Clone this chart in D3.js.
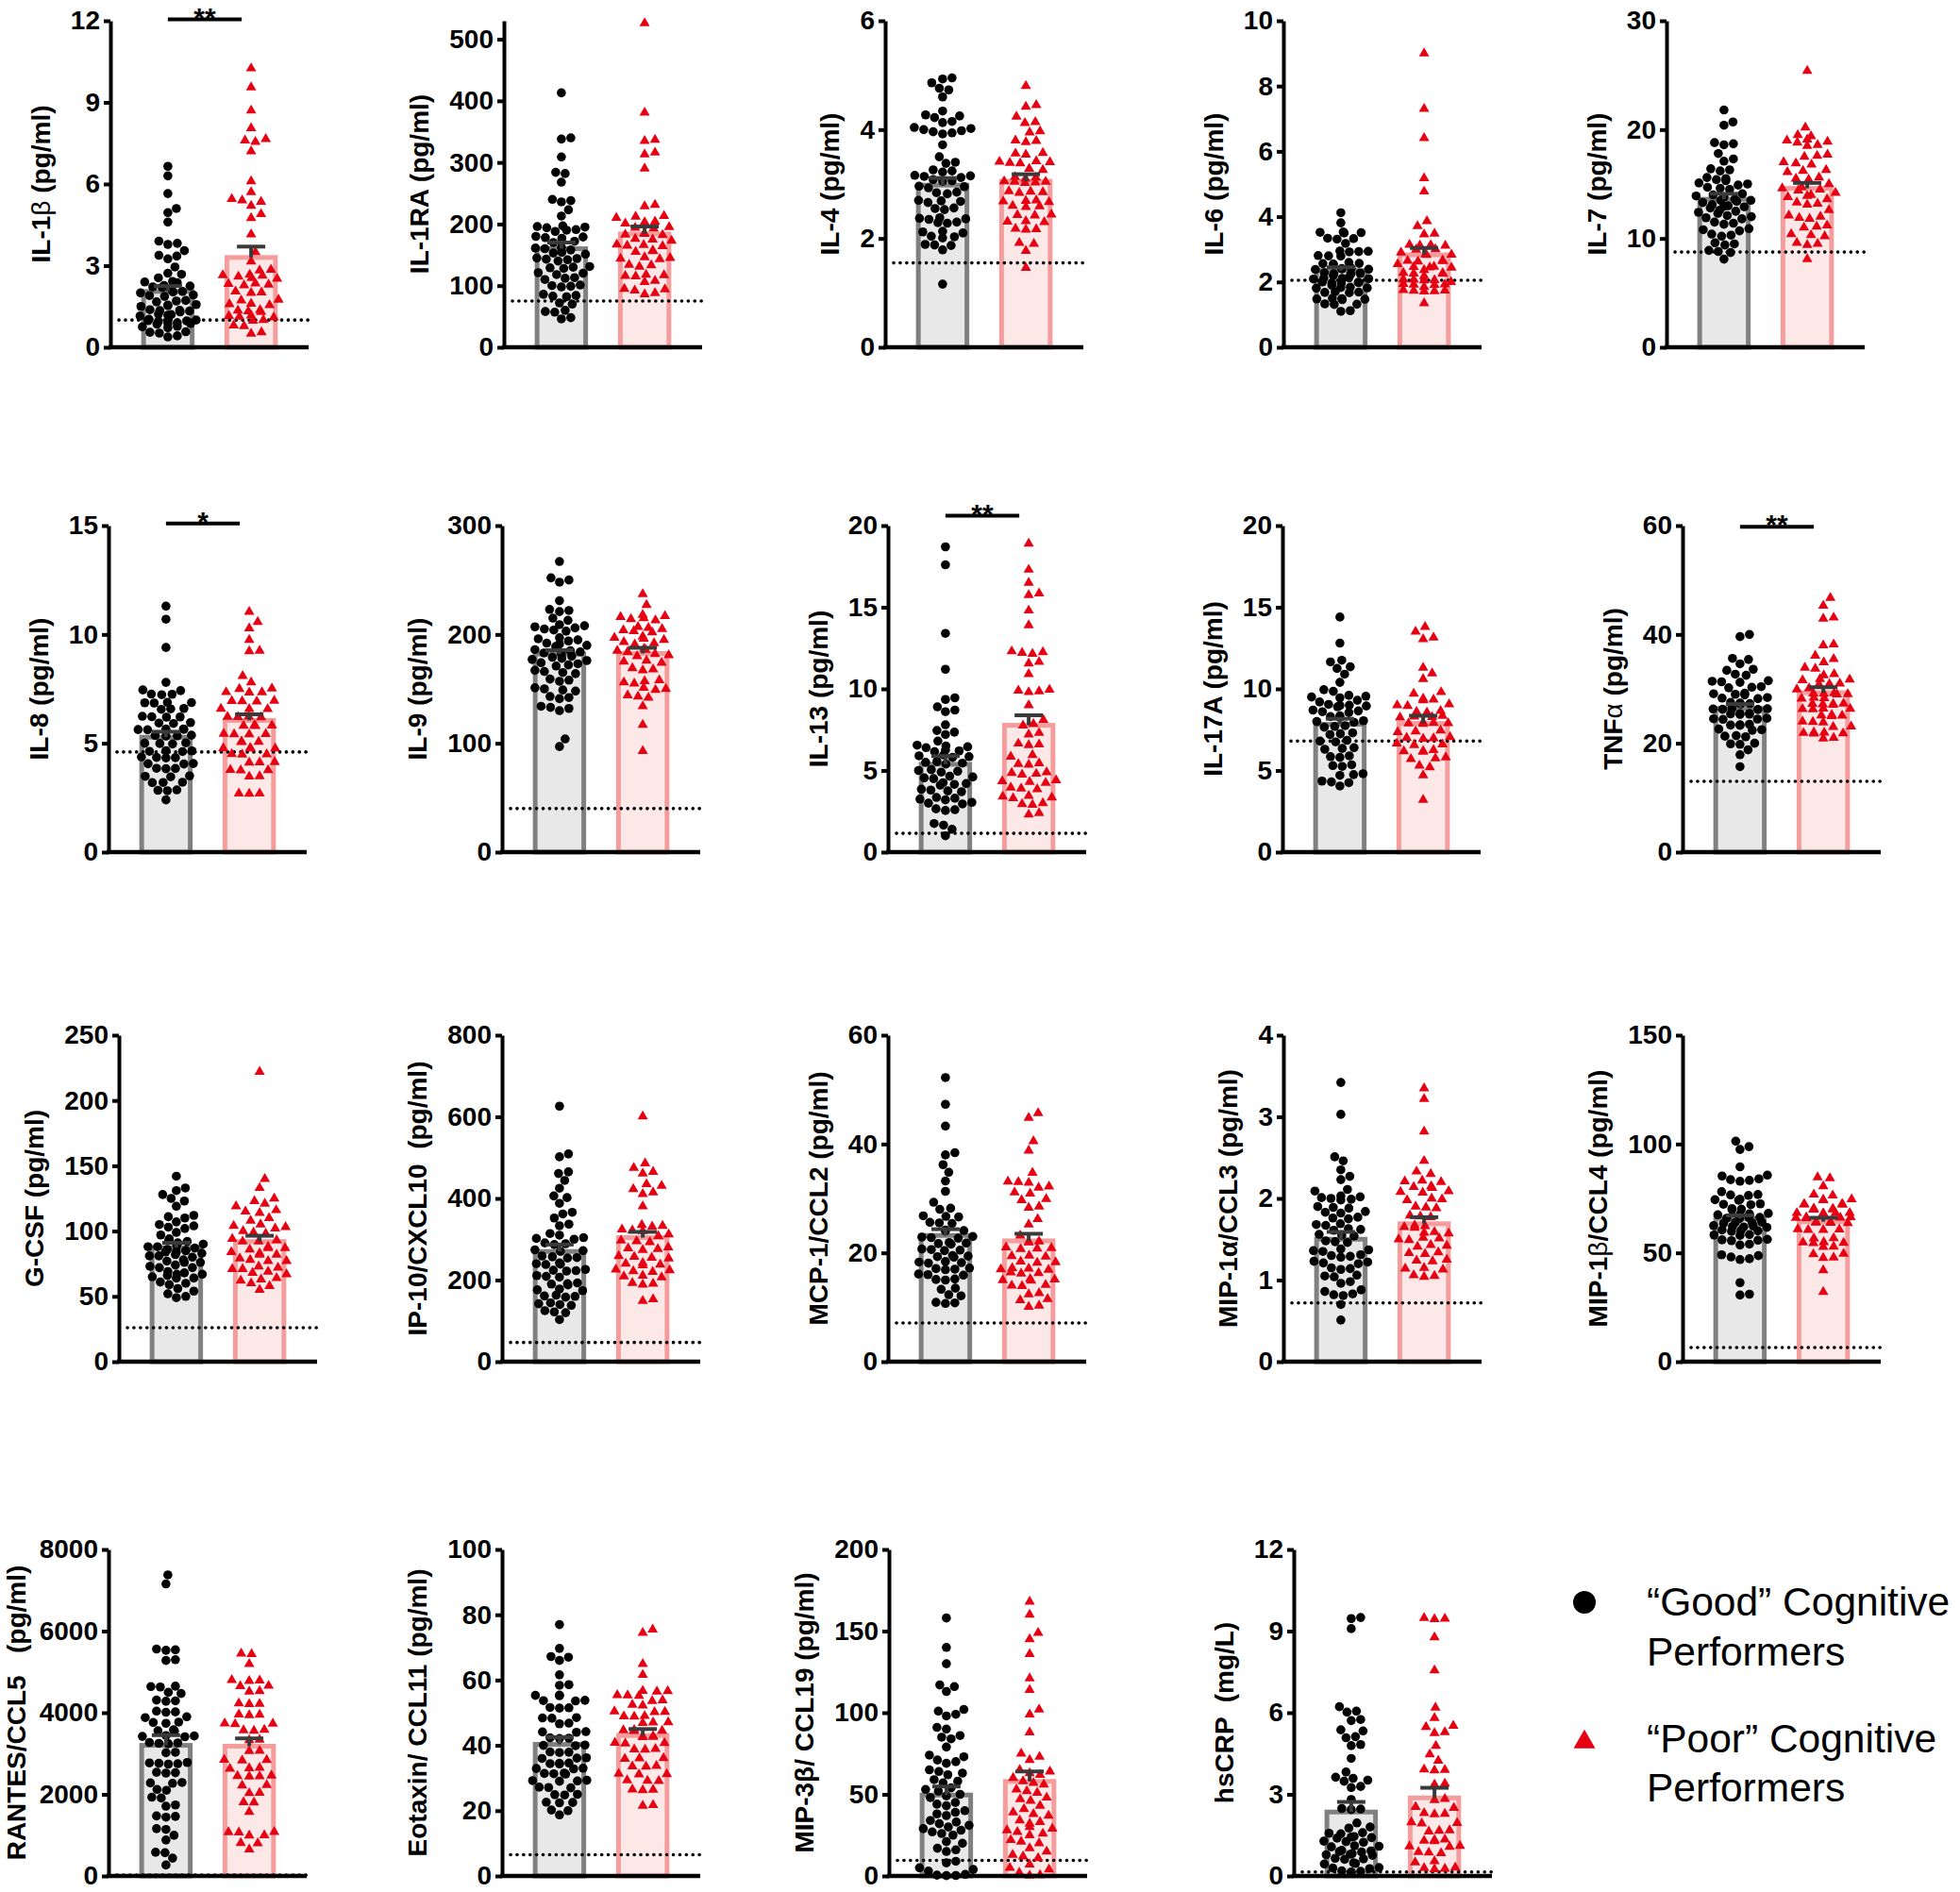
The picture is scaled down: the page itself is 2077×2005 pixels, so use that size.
<!DOCTYPE html>
<html>
<head>
<meta charset="utf-8">
<script src="https://cdn.jsdelivr.net/npm/d3@7"></script>
<style>
  body { margin: 0; background: #fff; }
  text { font-family: "Liberation Sans", Arial, sans-serif; }
</style>
</head>
<body>
<div id="chart"></div>
<script>
// ---- data ----
var labels = ["IL-1β (pg/ml)", "IL-1RA (pg/ml)", "IL-4 (pg/ml)", "IL-6 (pg/ml)", "IL-7 (pg/ml)",
              "IL-8 (pg/ml)", "IL-9 (pg/ml)", "IL-13 (pg/ml)", "IL-17A (pg/ml)", "TNFα (pg/ml)",
              "G-CSF (pg/ml)", "IP-10/CXCL10  (pg/ml)", "MCP-1/CCL2 (pg/ml)", "MIP-1α/CCL3 (pg/ml)", "MIP-1β/CCL4 (pg/ml)",
              "RANTES/CCL5   (pg/ml)", "Eotaxin/ CCL11 (pg/ml)", "MIP-3β/ CCL19 (pg/ml)", "hsCRP  (mg/L)"];
var groups = ["Good", "Poor"];
var yMax     = [12, 530, 6, 10, 30, 15, 300, 20, 20, 60, 250, 800, 60, 4, 150, 8000, 100, 200, 12];
var tickStep = [3, 100, 2, 2, 10, 5, 100, 5, 5, 20, 50, 200, 20, 1, 50, 2000, 20, 50, 3];
var lod      = [1.0, 75, 1.55, 2.05, 8.75, 4.6, 40, 1.15, 6.8, 13, 26, 47, 7.1, 0.72, 6.5, 20, 6.5, 9.5, 0.15];
var goodMean = [2.05, 160, 2.98, 2.35, 13.6, 5.28, 182, 5.38, 7.83, 26.4, 87.3, 270, 23.2, 1.50, 65.8, 3200, 40.3, 49.6, 2.35];
var goodSem  = [0.2, 10, 0.13, 0.1, 0.5, 0.25, 3.5, 0.5, 0.34, 0.8, 3.7, 17, 1.15, 0.09, 1.4, 250, 2.2, 5.2, 0.37];
var poorMean = [3.3, 184, 3.05, 2.83, 14.6, 6.05, 182.5, 7.77, 7.88, 29.3, 92, 304, 22.2, 1.69, 64.3, 3180, 43.0, 57.9, 2.87];
var poorSem  = [0.4, 12, 0.13, 0.21, 0.5, 0.28, 5.2, 0.61, 0.47, 1.0, 4.4, 14, 1.3, 0.08, 1.8, 190, 2.0, 6.1, 0.37];
var sigMark  = ["**", "", "", "", "", "*", "", "**", "", "**", "", "", "", "", "", "", "", "", ""];
var sigAt    = [12.05, 0, 0, 0, 0, 15.1, 0, 20.6, 0, 59.8, 0, 0, 0, 0, 0, 0, 0, 0, 0];

var il1bGood = [6.65,6.3,5.65,5.1,4.95,4.6,3.9,3.82,3.78,3.55,3.38,3.35,3.25,2.95,2.72,2.68,2.55,2.42,2.4,2.37,2.27,2.25,2.22,2.2,2.08,2.05,2.03,2.0,1.92,1.9,1.87,1.72,1.7,1.67,1.57,1.55,1.53,1.5,1.38,1.36,1.35,1.33,1.3,1.22,1.2,1.18,1.15,1.03,1.0,0.98,0.97,0.95,0.9,0.88,0.87,0.85,0.77,0.75,0.72,0.57,0.55,0.52,0.42,0.38];
var il1bPoor = [10.25,9.55,8.7,8.05,7.65,7.6,7.55,7.2,6.1,5.7,5.45,5.4,5.35,5.2,4.9,4.75,4.15,3.5,3.15,2.85,2.82,2.67,2.65,2.63,2.6,2.55,2.52,2.35,2.33,2.3,2.28,2.05,2.02,2.0,1.75,1.72,1.6,1.58,1.55,1.37,1.35,1.32,1.3,1.17,1.15,1.12,1.1,1.0,0.98,0.8,0.78,0.55,0.5];
var il1raGood = [413,340,338,309,284,282,268,240,238,236,223,213,197,196,195,194,191,190,188,180,179,178,177,172,170,162,161,160,158,154,153,151,145,144,143,142,140,131,130,129,128,121,120,118,113,112,110,101,100,99,98,86,84,83,82,72,70,60,58,57,48,46];
var il1raPoor = [526,381,337,335,316,313,290,231,229,213,212,210,204,203,202,201,195,194,193,185,184,183,182,176,175,173,167,166,165,164,157,156,155,146,145,144,143,134,133,131,118,117,116,115,108,106,95,94,92,88,86];
var il4Good = [4.95,4.93,4.86,4.76,4.73,4.6,4.34,4.27,4.25,4.22,4.15,4.13,4.04,4.02,4.0,3.98,3.96,3.94,3.92,3.72,3.5,3.4,3.38,3.26,3.24,3.22,3.16,3.15,3.14,3.12,3.08,3.06,3.05,2.96,2.95,2.93,2.85,2.84,2.82,2.7,2.69,2.68,2.66,2.56,2.55,2.53,2.38,2.37,2.36,2.35,2.3,2.29,2.28,2.13,2.12,2.1,2.04,2.03,2.01,1.89,1.88,1.87,1.79,1.16];
var il4Poor = [4.8,4.45,4.42,4.24,4.14,4.12,3.97,3.95,3.8,3.79,3.77,3.57,3.56,3.54,3.42,3.41,3.4,3.39,3.38,3.28,3.26,3.13,3.12,3.1,3.05,3.04,3.04,3.03,3.02,2.87,2.86,2.85,2.84,2.7,2.69,2.68,2.67,2.6,2.59,2.58,2.44,2.43,2.42,2.32,2.31,2.3,2.18,2.17,2.16,1.92,1.9,1.77,1.46];
var il6Good = [4.12,3.81,3.53,3.52,3.51,3.5,3.34,3.33,3.31,3.18,2.95,2.94,2.93,2.92,2.81,2.8,2.79,2.6,2.57,2.56,2.55,2.54,2.42,2.41,2.4,2.39,2.38,2.28,2.27,2.26,2.25,2.24,2.2,2.13,2.12,2.11,2.1,2.09,2.0,1.99,1.98,1.97,1.96,1.9,1.84,1.83,1.82,1.81,1.7,1.69,1.68,1.67,1.5,1.49,1.48,1.47,1.46,1.33,1.32,1.31,1.12,1.1];
var il6Poor = [9.0,7.3,6.41,5.18,4.77,3.86,3.71,3.48,3.46,3.14,3.13,3.12,3.11,3.0,2.99,2.9,2.85,2.84,2.83,2.66,2.65,2.64,2.63,2.55,2.47,2.46,2.45,2.44,2.37,2.28,2.27,2.26,2.25,2.18,2.08,2.07,2.06,2.05,2.0,1.94,1.93,1.92,1.91,1.85,1.75,1.74,1.73,1.72,1.71,1.35];
var il7Good = [21.8,20.7,20.4,18.8,18.7,18.6,17.8,17.3,17.1,16.4,16.3,16.2,15.6,15.5,15.4,15.3,15.1,15.0,14.9,14.7,14.6,14.5,14.1,14.0,13.9,13.8,13.6,13.5,13.5,13.4,13.3,13.1,13.0,12.95,12.9,12.8,12.6,12.5,12.4,12.3,12.1,12.0,11.9,11.8,11.5,11.4,11.3,10.9,10.8,10.7,10.4,10.3,10.2,9.6,9.5,9.4,8.9,8.8,8.7,8.1];
var il7Poor = [25.4,20.2,19.5,19.4,19.1,19.0,18.9,18.8,18.6,18.5,17.7,17.6,17.5,17.0,16.9,16.8,16.3,16.2,16.1,15.6,15.5,15.4,15.0,14.7,14.6,14.5,14.4,14.2,14.0,13.9,13.8,13.6,13.3,13.2,13.1,12.6,12.1,12.0,11.9,11.8,11.2,11.1,11.0,10.4,10.3,10.2,9.6,9.5,9.4,8.1];
var il8Good = [11.3,10.7,9.4,7.8,7.45,7.42,7.26,7.25,7.23,6.88,6.87,6.86,6.85,6.6,6.58,6.56,6.24,6.22,6.21,6.2,5.95,5.93,5.91,5.66,5.65,5.64,5.63,5.62,5.37,5.36,5.34,5.33,5.02,5.0,4.99,4.97,4.66,4.65,4.63,4.62,4.37,4.35,4.34,4.33,4.07,4.06,4.05,3.85,3.84,3.83,3.5,3.48,3.46,3.21,3.2,3.19,2.86,2.84,2.82,2.4];
var il8Poor = [11.04,10.57,10.28,9.75,9.25,9.23,8.09,7.8,7.52,7.5,7.35,7.34,7.33,6.95,6.94,6.93,6.92,6.59,6.58,6.57,6.23,6.22,6.21,6.2,5.83,5.82,5.81,5.8,5.44,5.43,5.42,5.41,5.08,5.07,5.06,4.79,4.78,4.77,4.76,4.5,4.49,4.48,4.14,4.13,4.12,3.78,3.77,3.76,3.49,3.47,2.7,2.69,2.68];
var il9Good = [267,252,250,248,231,223,222,221,215,213,209,208,207,206,205,204,203,197,196,195,194,192,191,190,189,186,185,184,183,182,180,179,178,177,176,174,173,172,171,167,166,165,164,159,158,157,151,150,149,148,143,142,141,134,133,132,130,104,97];
var il9Poor = [237,227,218,217,216,215,214,213,207,206,205,204,203,202,198,197,196,195,193,192,191,187,186,185,184,182,181,180,176,175,174,169,168,167,158,157,156,155,151,150,149,144,143,142,134,117,93];
var il13Good = [18.7,17.6,13.4,11.2,9.45,9.35,8.9,8.7,8.6,7.8,7.45,7.35,7.2,6.8,6.55,6.5,6.45,6.4,6.25,6.2,6.15,5.95,5.9,5.85,5.8,5.55,5.5,5.45,5.4,5.05,5.0,4.95,4.9,4.65,4.6,4.55,4.5,4.25,4.2,4.15,4.1,3.85,3.8,3.75,3.7,3.35,3.3,3.25,3.2,3.05,3.0,2.95,2.65,2.6,2.55,1.75,1.65,1.4,1.0];
var il13Poor = [18.9,17.3,16.5,15.85,15.75,14.8,13.9,12.3,12.25,12.2,12.15,11.65,11.55,10.9,9.95,9.9,9.85,9.8,9.0,8.1,7.85,7.75,7.3,7.2,6.65,6.6,6.55,5.95,5.85,5.45,5.4,5.35,4.9,4.85,4.8,4.75,4.4,4.35,4.3,4.25,3.95,3.9,3.85,3.45,3.4,3.35,3.3,3.0,2.95,2.9,2.4,2.3];
var il17aGood = [14.4,12.8,11.75,11.65,11.35,11.25,10.9,10.4,9.95,9.85,9.6,9.55,9.5,9.45,9.3,9.2,9.05,9.0,8.98,8.95,8.9,8.7,8.65,8.6,8.55,8.35,8.3,8.25,8.05,8.0,7.95,7.75,7.7,7.65,7.3,7.25,7.2,6.85,6.8,6.75,6.4,6.35,6.3,5.9,5.85,5.8,5.35,5.3,5.25,4.8,4.75,4.7,4.35,4.3,4.25,4.05];
var il17aPoor = [13.8,13.5,13.15,13.05,11.3,10.95,10.6,9.8,9.7,9.4,9.35,9.3,9.05,9.0,8.95,8.65,8.6,8.55,8.35,8.3,8.28,8.25,7.95,7.92,7.9,7.88,7.85,7.45,7.4,7.35,7.05,7.0,6.98,6.95,6.65,6.6,6.55,6.25,6.2,6.18,6.15,5.8,5.75,5.7,5.3,5.2,4.7,3.2];
var tnfGood = [40.0,39.6,35.6,35.4,34.6,33.6,33.4,32.7,32.5,31.5,31.4,31.3,31.2,30.4,30.3,30.2,29.2,29.1,29.0,28.9,28.4,28.3,28.2,27.5,27.4,27.3,27.2,26.4,26.35,26.3,26.25,26.2,25.5,25.45,25.4,25.35,25.3,24.6,24.5,24.45,24.4,23.5,23.4,23.35,23.3,22.6,22.5,22.4,21.4,21.3,21.2,20.0,19.9,19.8,18.8,17.9,15.7];
var tnfPoor = [46.7,45.3,43.1,42.9,38.2,38.0,36.1,35.5,34.9,33.9,33.7,32.7,32.5,31.8,31.7,31.6,31.0,30.9,30.8,30.1,29.9,29.2,29.15,29.1,29.05,29.0,28.4,28.3,28.2,27.3,27.25,27.2,27.15,27.1,26.4,26.35,26.3,26.25,25.2,25.15,25.1,25.0,24.0,23.9,23.85,23.1,23.0,22.0,21.95,21.9,21.85,21.8,21.0,20.9];
var gcsfGood = [142,133,131,128,125,123,119,112,111,110,107,105,104,103,102,99,97,94,93,92,91,90,89,88,88,87,86,85,85,84,84,83,82,81,81,80,78,77,76,76,74,73,72,72,69,68,67,67,66,65,64,64,61,60,59,56,54,52,50,49];
var gcsfPoor = [222,140,133,125,123,121,119,116,115,114,110,108,105,104,103,102,100,99,98,94,93,92,92,88,87,87,86,84,83,82,82,79,78,77,77,73,72,71,71,69,68,67,64,63,62,60,58,55];
var ip10Good = [626,509,502,465,461,444,425,406,402,388,366,362,352,337,333,314,310,304,302,300,291,289,287,274,272,270,259,257,255,254,242,240,239,238,226,224,223,222,211,209,207,193,191,190,188,178,176,174,163,161,160,158,144,142,140,138,125,122,120,103];
var ip10Poor = [601,486,475,465,461,435,431,423,415,411,381,335,333,331,324,322,320,312,308,297,295,293,280,278,276,274,259,257,255,253,242,240,238,236,226,224,222,220,211,209,207,193,191,189,153,149];
var mcp1Good = [52.2,47.3,43.3,38.4,38.0,36.2,34.8,33.2,31.3,29.3,28.2,28.0,26.8,26.7,26.6,25.6,25.5,25.4,24.2,24.1,24.0,23.0,22.9,22.8,22.7,21.9,21.8,21.7,21.6,20.7,20.6,20.5,20.4,19.5,19.4,19.3,19.2,18.4,18.3,18.2,18.1,17.2,17.1,17.0,16.9,16.1,16.0,15.9,15.2,15.1,15.0,13.5,13.3,12.3,12.1,10.9,10.8,10.7];
var mcp1Poor = [45.7,44.8,40.5,38.8,34.7,33.1,33.0,32.9,32.2,32.0,31.1,30.9,29.9,29.7,28.5,28.3,26.2,25.2,23.2,22.1,22.0,21.9,21.0,20.9,20.8,20.7,19.5,19.4,19.3,18.4,18.3,18.2,17.2,17.1,17.0,16.9,16.4,16.3,16.2,15.2,15.1,15.0,14.9,14.1,14.0,13.9,12.6,12.4,11.5,11.3,10.3,10.1];
var mip1aGood = [3.42,3.03,2.51,2.46,2.35,2.27,2.23,2.11,2.09,2.03,2.02,2.01,2.0,1.99,1.98,1.9,1.89,1.88,1.84,1.83,1.82,1.77,1.76,1.75,1.69,1.68,1.67,1.63,1.62,1.61,1.56,1.55,1.54,1.48,1.47,1.46,1.38,1.37,1.36,1.35,1.31,1.3,1.29,1.28,1.23,1.22,1.21,1.2,1.15,1.14,1.13,1.06,1.05,1.04,0.98,0.96,0.88,0.86,0.83,0.82,0.81,0.7,0.51];
var mip1aPoor = [3.35,3.22,2.82,2.46,2.33,2.3,2.22,2.21,2.2,2.15,2.14,2.13,2.09,2.08,2.07,2.0,1.99,1.98,1.9,1.89,1.88,1.79,1.78,1.77,1.67,1.66,1.65,1.64,1.59,1.58,1.57,1.52,1.51,1.5,1.49,1.43,1.42,1.41,1.34,1.33,1.32,1.25,1.24,1.23,1.15,1.14,1.13,1.06,1.05,1.04];
var mip1bGood = [101.3,98.8,97.5,89.5,85.7,85.3,84.0,83.6,83.3,82.9,78.1,76.8,76.6,76.4,74.6,74.4,74.2,72.5,72.3,72.1,70.3,70.1,69.9,68.1,67.9,67.7,67.5,66.3,66.1,65.9,65.7,64.1,63.9,63.7,63.5,62.5,62.3,62.1,61.9,61.7,60.5,60.3,60.1,59.9,58.4,58.2,58.0,56.2,56.0,55.8,55.6,54.0,53.6,49.1,48.7,48.1,47.3,46.9,36.3,31.0,30.6];
var mip1bPoor = [84.7,84.3,80.6,76.8,76.4,74.6,74.4,74.2,72.5,72.4,72.2,72.1,70.3,70.2,70.1,70.0,69.9,68.4,68.3,68.2,68.1,68.0,66.4,66.3,66.2,66.1,66.0,64.1,64.0,63.9,63.8,63.7,60.9,60.8,60.6,60.5,56.8,56.6,54.9,54.8,54.6,54.5,52.9,52.7,49.6,49.4,47.9,47.7,42.0,32.0];
var rantesGood = [7377,7155,5560,5540,5530,5300,5280,4650,4640,4630,4500,4470,4310,4290,4280,4040,4020,4010,3900,3880,3770,3760,3740,3580,3560,3550,3440,3430,3420,3410,3270,3260,3250,3240,3030,3020,2780,2770,2760,2750,2740,2540,2530,2520,2290,2280,2270,2120,2100,1930,1910,1740,1710,1470,1460,1440,1160,1140,997,882,580,570,437,268];
var rantesPoor = [5450,5440,5192,4800,4790,4780,4660,4650,4530,4520,4230,4220,4210,3960,3950,3940,3740,3730,3720,3580,3570,3560,3340,3330,3070,3060,2850,2840,2830,2650,2640,2630,2460,2450,2445,2440,2230,2220,2040,2030,1810,1800,1572,1080,1075,1070,1000,995,810,800,652];
var eotaxinGood = [77.0,69.7,67.2,67.0,66.0,61.6,58.6,58.4,55.4,55.3,55.2,53.8,53.7,53.6,51.6,51.5,51.4,48.5,48.4,48.3,46.8,46.6,44.2,44.1,44.0,42.3,42.2,42.1,40.1,40.0,39.9,38.0,37.9,37.8,36.2,36.1,36.0,34.6,34.5,34.4,34.3,33.0,32.9,32.8,31.5,31.4,31.3,31.2,29.3,29.2,29.1,29.0,27.2,27.1,27.0,25.0,24.9,24.8,22.6,22.5,22.4,20.2,20.0,18.7];
var eotaxinPoor = [75.5,74.5,64.9,61.6,56.7,56.6,56.5,55.4,55.3,55.2,53.8,53.6,52.4,52.2,50.4,50.3,50.2,49.0,48.9,48.8,47.1,47.0,46.9,44.7,44.6,44.5,44.4,42.8,42.7,42.6,42.5,40.8,40.7,40.6,38.9,38.8,38.7,36.1,36.0,35.9,33.7,33.6,33.5,31.3,31.2,31.1,29.3,29.2,29.1,26.5,26.4,26.3,21.7,21.5];
var mip3bGood = [158,140,130,117,116,113,102,101,99,98,91,90,86,85,84,79,74,73,71,70,69,65,64,63,62,59,58,57,54,53,52,50,49,48,45,44,43,40,39,38,37,34,33,32,31,30,29,28,27,26,25,21,20,17,16,15,9,8,5,4,3,1,0.5,0.3,0.2];
var mip3bPoor = [168,160,149,145,136,121,114,102,99,88,75,73,71,65,64,63,62,60,58,57,56,53,52,51,48,47,46,43,41,39,38,37,34,33,32,30,29,28,27,26,25,22,21,20,17,15,13,12,11,7,5,4,2,0.5,0.3];
var hscrpGood = [9.5,9.46,9.09,6.22,6.06,6.02,5.75,5.71,5.37,5.33,5.12,5.08,4.83,4.79,4.32,3.82,3.63,3.59,3.52,3.48,3.29,3.25,2.81,2.48,2.46,2.44,1.95,1.8,1.76,1.59,1.57,1.55,1.45,1.43,1.41,1.39,1.28,1.26,1.24,1.11,1.09,1.07,0.94,0.92,0.9,0.88,0.82,0.8,0.78,0.76,0.65,0.63,0.61,0.48,0.46,0.44,0.31,0.29,0.27,0.19,0.17,0.15];
var hscrpPoor = [9.48,9.46,9.44,8.77,7.56,6.19,5.81,5.52,5.48,5.29,5.25,4.78,4.47,4.24,3.92,3.9,3.88,3.4,3.36,2.83,2.79,2.54,2.5,2.31,2.29,2.27,1.97,1.95,1.93,1.68,1.66,1.64,1.34,1.32,1.3,1.28,1.11,1.09,1.07,0.88,0.86,0.84,0.54,0.5,0.31,0.29,0.27,0.25];

var goodValues = [il1bGood, il1raGood, il4Good, il6Good, il7Good, il8Good, il9Good, il13Good, il17aGood, tnfGood,
                  gcsfGood, ip10Good, mcp1Good, mip1aGood, mip1bGood, rantesGood, eotaxinGood, mip3bGood, hscrpGood];
var poorValues = [il1bPoor, il1raPoor, il4Poor, il6Poor, il7Poor, il8Poor, il9Poor, il13Poor, il17aPoor, tnfPoor,
                  gcsfPoor, ip10Poor, mcp1Poor, mip1aPoor, mip1bPoor, rantesPoor, eotaxinPoor, mip3bPoor, hscrpPoor];

// ---- layout ----
var width = 2077, height = 2005;
var rowTop = [22, 557, 1097, 1642], plotH = 346;
var panelX = [117, 534, 938, 1360, 1766,
              115, 532, 941, 1359, 1783,
              126, 532, 941, 1360, 1783,
              115, 532, 942, 1371];
var thinGreek = [0, 9, 14];   // panels whose greek letter is set in the light symbol face
var barFill = {"Good": "#e8e8e8", "Poor": "#fde8e8"};
var barStroke = {"Good": "#808080", "Poor": "#f59c9c"};
var red = "#e60012";

var svg = d3.select("#chart").append("svg")
    .attr("width", width)
    .attr("height", height);
svg.append("rect").attr("width", width).attr("height", height).attr("fill", "#fff");

// simple beeswarm: place points bottom-up, nudging sideways until they don't overlap
function swarm(values, yS, diam, lim) {
    var placed = [];
    values.slice().sort(function(a, b){ return a - b; }).forEach(function(v) {
        var py = yS(v), best = 0, bestHits = Infinity;
        for (var s = 0; s <= lim * 4; s++) {
            var off = (s % 2 ? 1 : -1) * Math.ceil(s / 2) * 0.5;
            var hits = 0;
            placed.forEach(function(p) {
                var dx = p.x - off, dy = p.y - py;
                if (dx * dx + dy * dy < diam * diam) hits++;
            });
            if (hits < bestHits) { bestHits = hits; best = off; }
            if (hits === 0) break;
        }
        placed.push({v: v, x: best, y: py});
    });
    return placed;
}

labels.forEach(function(label, i) {
    var X = panelX[i], top = rowTop[Math.floor(i / 5)], bottom = top + plotH;
    var g = svg.append("g").attr("transform", "translate(" + X + ",0)");

    var y = d3.scaleLinear().domain([0, yMax[i]]).range([bottom, top]);
    var x = d3.scaleBand().domain(groups).range([0, 210]).paddingInner(0.36).paddingOuter(0.37);
    var bw = x.bandwidth();
    var means = {"Good": goodMean[i], "Poor": poorMean[i]};
    var sems = {"Good": goodSem[i], "Poor": poorSem[i]};
    var vals = {"Good": goodValues[i], "Poor": poorValues[i]};

    // bars
    g.selectAll(".bar")
     .data(groups)
     .enter().append("rect")
     .attr("class", "bar")
     .attr("x", function(d) { return x(d) + 2.5; })
     .attr("width", bw - 5)
     .attr("y", function(d) { return y(means[d]); })
     .attr("height", function(d) { return y(0) - y(means[d]); })
     .attr("fill", function(d) { return barFill[d]; })
     .attr("stroke", function(d) { return barStroke[d]; })
     .attr("stroke-width", 5);

    // detection limit
    g.append("line")
     .attr("x1", 9).attr("x2", 210)
     .attr("y1", y(lod[i])).attr("y2", y(lod[i]))
     .attr("stroke", "#000").attr("stroke-width", 3.6)
     .attr("stroke-linecap", "round")
     .attr("stroke-dasharray", "0.1,6.8");

    // individual values
    groups.forEach(function(grp) {
        var cx = x(grp) + bw / 2;
        var pts = swarm(vals[grp], y, grp === "Good" ? 9.8 : 11, 30);
        if (grp === "Good") {
            g.selectAll(".dot-" + i).data(pts).enter().append("circle")
             .attr("cx", function(d) { return cx + d.x; })
             .attr("cy", function(d) { return d.y; })
             .attr("r", 4.8)
             .attr("fill", "#000");
        } else {
            g.selectAll(".tri-" + i).data(pts).enter().append("path")
             .attr("d", d3.symbol().type(d3.symbolTriangle).size(52))
             .attr("transform", function(d) { return "translate(" + (cx + d.x) + "," + d.y + ")"; })
             .attr("fill", red);
        }
    });

    // SEM bars
    groups.forEach(function(grp) {
        var cx = x(grp) + bw / 2, y1 = y(means[grp] + sems[grp]);
        g.append("line").attr("x1", cx).attr("x2", cx)
         .attr("y1", y(means[grp])).attr("y2", y1)
         .attr("stroke", "#3a3a3a").attr("stroke-width", 4);
        g.append("line").attr("x1", cx - 15).attr("x2", cx + 15)
         .attr("y1", y1).attr("y2", y1)
         .attr("stroke", "#3a3a3a").attr("stroke-width", 4);
    });

    // axes
    var ticks = d3.range(0, yMax[i] + 1e-9, tickStep[i]);
    var ga = g.append("g")
        .call(d3.axisLeft(y).tickValues(ticks).tickFormat(d3.format("d"))
                .tickSize(7).tickSizeOuter(0).tickPadding(4));
    ga.select(".domain").attr("stroke-width", 4);
    ga.selectAll(".tick line").attr("stroke-width", 4);
    ga.selectAll(".tick text")
      .style("font-size", "28px")
      .style("font-weight", "bold")
      .attr("fill", "#000")
      .attr("x", -11);

    var gx = g.append("g")
        .attr("transform", "translate(0," + bottom + ")")
        .call(d3.axisBottom(x).tickValues([]).tickSizeOuter(0));
    gx.select(".domain").attr("stroke-width", 4.5).attr("d", "M-2,0H210");

    var labelW = d3.max(ga.selectAll(".tick text").nodes(), function(n) { return n.getBBox().width; });

    // axis title, kept clear of the page edge
    var tx = Math.max(-11 - labelW - 32, 17 - X);
    var title = g.append("text")
        .attr("transform", "translate(" + tx + "," + ((top + bottom) / 2) + ") rotate(-90)")
        .attr("text-anchor", "middle")
        .attr("dy", "0.35em")
        .attr("font-size", 28)
        .attr("font-weight", "bold")
        .style("white-space", "pre");
    label.split(/([αβ])/).forEach(function(part) {
        if (!part) return;
        var t = title.append("tspan").text(part);
        if (/^[αβ]$/.test(part) && thinGreek.indexOf(i) >= 0) t.attr("font-weight", "normal");
    });

    // significance
    if (sigMark[i]) {
        var sx1 = x("Good") + bw / 2, sx2 = x("Poor") + bw / 2 - 10, sy = y(sigAt[i]);
        g.append("line").attr("x1", sx1).attr("x2", sx2).attr("y1", sy).attr("y2", sy)
         .attr("stroke", "#000").attr("stroke-width", 4);
        g.append("text")
         .attr("x", (sx1 + sx2) / 2).attr("y", sy + 8)
         .attr("text-anchor", "middle")
         .attr("font-size", 30).attr("font-weight", "bold")
         .text(sigMark[i]);
    }
});

// legend
var legend = svg.append("g");
legend.append("circle").attr("cx", 1679).attr("cy", 1698).attr("r", 12).attr("fill", "#000");
legend.append("path")
      .attr("d", d3.symbol().type(d3.symbolTriangle).size(230))
      .attr("transform", "translate(1679,1846)")
      .attr("fill", red);
var legendLines = [["“Good” Cognitive", 1712], ["Performers", 1765], ["“Poor” Cognitive", 1857], ["Performers", 1909]];
legend.selectAll(".lg").data(legendLines).enter().append("text")
      .attr("x", 1745).attr("y", function(d) { return d[1]; })
      .attr("font-size", 42.5)
      .text(function(d) { return d[0]; });
</script>
</body>
</html>
